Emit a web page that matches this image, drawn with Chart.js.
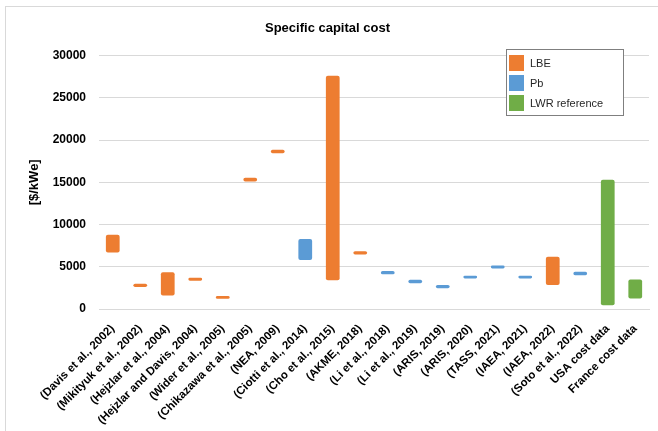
<!DOCTYPE html>
<html>
<head>
<meta charset="utf-8">
<script src="https://cdn.jsdelivr.net/npm/chart.js@4/dist/chart.umd.min.js"></script>
<style>
  body { margin: 0; background: #fff; }
  #wrap { width: 658px; height: 431px; position: relative; }
</style>
</head>
<body>
<div id="wrap"><canvas id="costChart" width="658" height="431"></canvas></div>
<script>
// categories (studies)
const categories = [
    "(Davis et al., 2002)", "(Mikityuk et al., 2002)", "(Hejzlar et al., 2004)",
    "(Hejzlar and Davis, 2004)", "(Wider et al., 2005)", "(Chikazawa et al., 2005)",
    "(NEA, 2009)", "(Ciotti et al., 2014)", "(Cho et al., 2015)", "(AKME, 2018)",
    "(Li et al., 2018)", "(Li et al., 2019)", "(ARIS, 2019)", "(ARIS, 2020)",
    "(TASS, 2021)", "(IAEA, 2021)", "(IAEA, 2022)", "(Soto et al., 2022)",
    "USA cost data", "France cost data"
];

// [low, high] ranges in $/kWe, null where series doesn't apply
const lbeRanges = [
    [6700, 8800], [2600, 3000], [1600, 4350], [3350, 3700], [1200, 1550],
    [15100, 15550], [18450, 18850], null, [3400, 27600], [6450, 6850],
    null, null, null, null, null, null, [2850, 6200], null, null, null
];
const pbRanges = [
    null, null, null, null, null, null, null, [5800, 8300], null, null,
    [4100, 4500], [3050, 3450], [2450, 2850], [3600, 3950], [4800, 5150],
    [3600, 3950], null, [4000, 4400], null, null
];
const lwrRanges = [
    null, null, null, null, null, null, null, null, null, null,
    null, null, null, null, null, null, null, null, [450, 15300], [1250, 3500]
];

const yTicks = [0, 5000, 10000, 15000, 20000, 25000, 30000];

const seriesNames = ["LBE", "Pb", "LWR reference"];
const seriesColors = ["#ED7D31", "#5B9BD5", "#70AD47"];

const FONT = "'Liberation Sans', Arial, sans-serif";

// outer frame of the chart
const framePlugin = {
    id: "frame",
    beforeDraw(chart) {
        const ctx = chart.ctx;
        ctx.save();
        ctx.fillStyle = "#fff";
        ctx.fillRect(0, 0, chart.width, chart.height);
        ctx.strokeStyle = "#d9d9d9";
        ctx.lineWidth = 1;
        ctx.strokeRect(5.5, 6.5, 700, 500);
        ctx.restore();
    }
};

// legend box drawn inside the plot area
const boxLegend = {
    id: "boxLegend",
    afterDraw(chart) {
        const ctx = chart.ctx;
        const x = 506, y = 49, w = 117, h = 66;
        ctx.save();
        ctx.fillStyle = "#fff";
        ctx.fillRect(x, y, w, h);
        ctx.strokeStyle = "#7f7f7f";
        ctx.lineWidth = 1;
        ctx.strokeRect(x + 0.5, y + 0.5, w, h);
        ctx.font = "11px " + FONT;
        ctx.textBaseline = "middle";
        chart.data.datasets.forEach((ds, i) => {
            const sy = y + 6 + i * 20;
            ctx.fillStyle = ds.backgroundColor;
            ctx.fillRect(x + 3, sy, 15, 16);
            ctx.fillStyle = "#262626";
            ctx.fillText(ds.label, x + 24, sy + 8.5);
        });
        ctx.restore();
    }
};

const ctx = document.getElementById("costChart").getContext("2d");
new Chart(ctx, {
    type: "bar",
    data: {
        labels: categories,
        datasets: [lbeRanges, pbRanges, lwrRanges].map((d, i) => ({
            label: seriesNames[i],
            data: d,
            backgroundColor: seriesColors[i],
            borderWidth: 0,
            borderRadius: 2,
            borderSkipped: false,
            grouped: false,
            categoryPercentage: 1,
            barPercentage: 0.5
        }))
    },
    options: {
        responsive: false,
        animation: false,
        layout: { padding: { top: 8, left: 6, right: 9, bottom: 0 } },
        plugins: {
            legend: { display: false },
            tooltip: { enabled: false },
            title: {
                display: true,
                text: "Specific capital cost",
                color: "#000",
                font: { family: FONT, size: 13, weight: "bold" },
                padding: { top: 13, bottom: 19 }
            }
        },
        scales: {
            x: {
                grid: { display: false },
                border: { color: "#d9d9d9" },
                ticks: {
                    color: "#000",
                    font: { family: FONT, size: 11.5, weight: "bold" },
                    autoSkip: false,
                    minRotation: 45,
                    maxRotation: 45,
                    padding: 5
                },
                afterFit(scale) { scale.height = 122; }
            },
            y: {
                min: 0,
                max: 30000,
                afterBuildTicks(scale) { scale.ticks = yTicks.map(v => ({ value: v })); },
                grid: { color: "#d9d9d9", drawTicks: false },
                border: { display: false },
                ticks: {
                    color: "#000",
                    font: { family: FONT, size: 12, weight: "bold" },
                    padding: 13,
                    callback: v => String(v)
                },
                title: {
                    display: true,
                    text: "[$/kWe]",
                    color: "#000",
                    font: { family: FONT, size: 13, weight: "bold" },
                    padding: { top: 21, bottom: 0 }
                },
                afterFit(scale) { scale.width = 93; }
            }
        }
    },
    plugins: [framePlugin, boxLegend]
});
</script>
</body>
</html>
